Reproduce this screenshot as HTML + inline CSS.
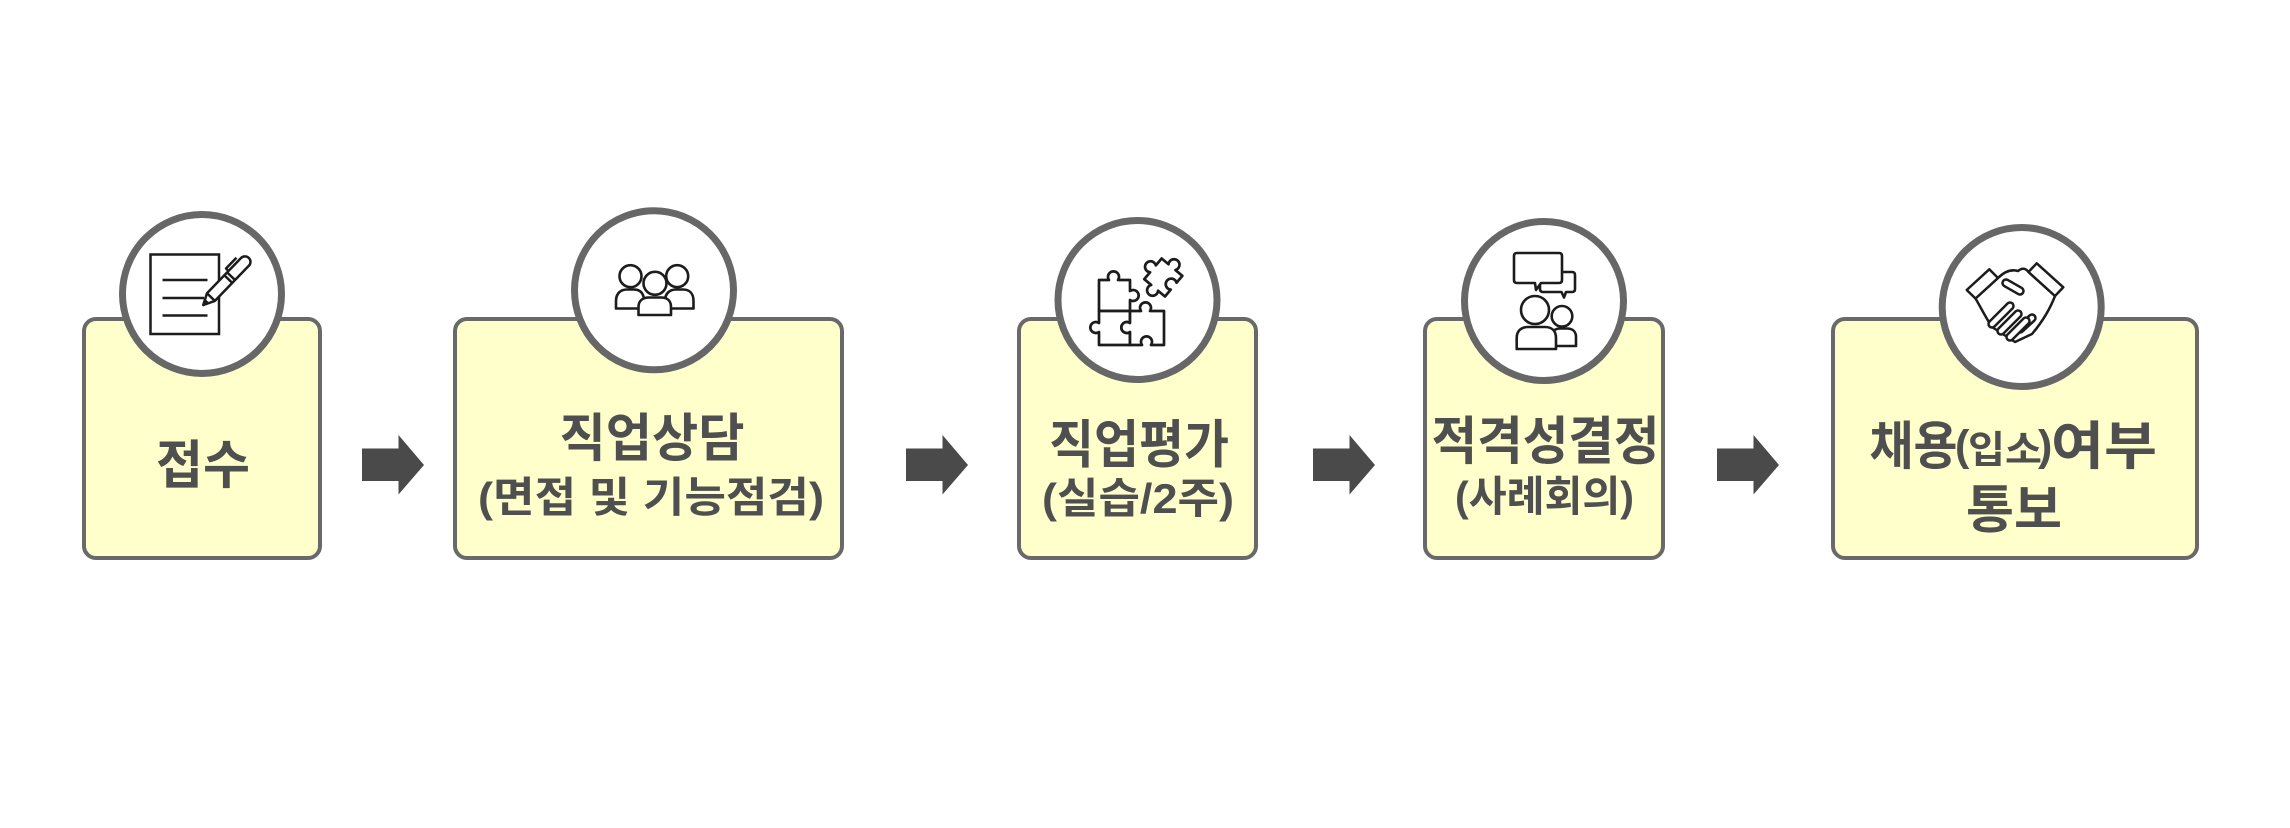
<!DOCTYPE html>
<html>
<head>
<meta charset="utf-8">
<style>
html,body{margin:0;padding:0;background:#fff;}
svg{display:block;}
.t{font-family:"Liberation Sans","Noto Sans CJK KR",sans-serif;font-weight:700;fill:#4f4f4f;}
</style>
</head>
<body>
<svg width="2290" height="828" viewBox="0 0 2290 828" xmlns="http://www.w3.org/2000/svg">
<rect x="0" y="0" width="2290" height="828" fill="#fff"/>

<!-- boxes -->
<g fill="#FFFFCC" stroke="#696969" stroke-width="4">
  <rect x="84" y="319" width="236" height="239" rx="12"/>
  <rect x="455" y="319" width="387" height="239" rx="12"/>
  <rect x="1019" y="319" width="237" height="239" rx="12"/>
  <rect x="1425" y="319" width="238" height="239" rx="12"/>
  <rect x="1833" y="319" width="364" height="239" rx="12"/>
</g>

<!-- circles -->
<g fill="#fff" stroke="#676767" stroke-width="7">
  <circle cx="202" cy="294" r="79.5"/>
  <circle cx="654" cy="290.3" r="79.5"/>
  <circle cx="1137.5" cy="300" r="79.5"/>
  <circle cx="1544" cy="301" r="79.5"/>
  <circle cx="2021.7" cy="307" r="79.5"/>
</g>

<!-- arrows -->
<g fill="#4a4a4a">
  <polygon points="362,448.5 398.5,448.5 398.5,435 424,465 398.5,494.5 398.5,481 362,481"/>
  <polygon points="906,448.5 942.5,448.5 942.5,435 968,465 942.5,494.5 942.5,481 906,481"/>
  <polygon points="1313,448.5 1349.5,448.5 1349.5,435 1375,465 1349.5,494.5 1349.5,481 1313,481"/>
  <polygon points="1717,448.5 1753.5,448.5 1753.5,435 1779,465 1753.5,494.5 1753.5,481 1717,481"/>
</g>

<!-- icon 1: document + pen -->
<g stroke="#1c1c1c" stroke-width="2.5" fill="none">
  <rect x="150.5" y="254.5" width="68.5" height="79.5" fill="#fff"/>
  <line x1="162.5" y1="280" x2="207.5" y2="280"/>
  <line x1="162.5" y1="298" x2="204" y2="298"/>
  <line x1="162.5" y1="315.5" x2="207.5" y2="315.5"/>
</g>
<g transform="translate(203.3,305) rotate(-46)" stroke="#1c1c1c" stroke-width="2.5" stroke-linejoin="round">
  <path d="M0,0 L11,-5.5 L60,-5.5 A5.5,5.5 0 0 1 60,5.5 L11,5.5 Z" fill="#fff"/>
  <path d="M0,0 L4.5,-2 L4.5,2 Z" fill="#1c1c1c"/>
  <line x1="11" y1="-5.5" x2="11" y2="5.5"/>
  <line x1="36" y1="-5.5" x2="36" y2="5.5"/>
  <line x1="40" y1="-5.5" x2="40" y2="5.5"/>
  <path d="M42,-5.5 L42,-9 L57,-9" fill="none"/>
</g>

<!-- icon 2: group -->
<g stroke="#1c1c1c" stroke-width="2.6" fill="#fff" stroke-linejoin="round">
  <path d="M616,308.5 L616,301 C616,293 621,289.5 627,289.5 L634,289.5 C640,289.5 644,293 644,301 L644,308.5 Z"/>
  <path d="M665,308.5 L665,301 C665,293 670,289.5 676,289.5 L683,289.5 C689,289.5 693.5,293 693.5,301 L693.5,308.5 Z"/>
  <circle cx="630.5" cy="276.2" r="11"/>
  <circle cx="677.2" cy="276.2" r="11"/>
  <path d="M638.5,315 L638.5,307 C638.5,300.5 643,297.5 649,297.5 L661,297.5 C667,297.5 671,300.5 671,307 L671,315 Z"/>
  <circle cx="655" cy="283.3" r="11.5"/>
</g>

<!-- icon 3: puzzle -->
<g stroke="#1c1c1c" stroke-width="2.7" fill="#fff" stroke-linejoin="round">
  <path d="M1099,280 L1109,280 A5.5,5.5 0 1 1 1118,280 L1130,280 L1130,291 A5.5,5.5 0 1 1 1130,300 L1130,311 L1099,311 Z"/>
  <path d="M1099,311 L1130,311 L1130,323 A5.5,5.5 0 1 0 1130,332 L1130,345 L1099,345 L1099,332 A5.5,5.5 0 1 1 1099,323 Z"/>
  <path d="M1130,311 L1141,311 A5.5,5.5 0 1 1 1150,311 L1164,311 L1164,345 L1151,345 A5.5,5.5 0 1 0 1142,345 L1130,345 L1130,332 A5.5,5.5 0 1 1 1130,323 Z"/>
  <g transform="translate(1163.3,277.5) rotate(40)">
    <path d="M-13.5,-13.5 L-4.5,-13.5 A5.5,5.5 0 1 1 4.5,-13.5 L13.5,-13.5 L13.5,-4.5 A5.5,5.5 0 1 0 13.5,4.5 L13.5,13.5 L4.5,13.5 A5.5,5.5 0 1 1 -4.5,13.5 L-13.5,13.5 L-13.5,4.5 A5.5,5.5 0 1 1 -13.5,-4.5 Z"/>
  </g>
</g>

<!-- icon 4: discussion -->
<g stroke="#1c1c1c" stroke-width="2.6" fill="#fff" stroke-linejoin="round">
  <path d="M1543,272 L1572,272 Q1575,272 1575,275 L1575,289 Q1575,292 1572,292 L1566,292 L1564,297.5 L1561.5,292 L1543,292 Q1540,292 1540,289 L1540,275 Q1540,272 1543,272 Z"/>
  <path d="M1517,253 L1559,253 Q1562,253 1562,256 L1562,280 Q1562,283 1559,283 L1541,283 L1536,290 L1535,283 L1517,283 Q1514,283 1514,280 L1514,256 Q1514,253 1517,253 Z"/>
  <path d="M1551.5,346 L1551.5,337 C1551.5,331.5 1555,328.5 1560,328.5 L1567,328.5 C1572.5,328.5 1576,331.5 1576,337 L1576,346 Z"/>
  <circle cx="1562" cy="316.3" r="10.3"/>
  <path d="M1516.7,349 L1516.7,338 C1516.7,331 1521,327 1528,327 L1545,327 C1552,327 1556,331 1556,338 L1556,349 Z"/>
  <circle cx="1535" cy="310" r="14"/>
</g>

<!-- icon 5: handshake -->
<g stroke="#1c1c1c" stroke-width="2.5" fill="#fff" stroke-linejoin="round" stroke-linecap="round">
  <path d="M2028.5,272 L2055,296 C2050,309 2043,321 2032,334 L2015,342 L1992,327 C1986,318 1980,306 1975.5,298.5 L1998,278 Q2008,268 2018,271 Q2024,266 2028.5,272 Z"/>
  <polygon points="1966.7,290 1989.3,269.3 1998,278 1975.5,298.5"/>
  <polygon points="2036.7,263.3 2063.3,287.3 2055,296 2028.5,272"/>
</g>
<g stroke-linecap="round">
  <line x1="2020" y1="329" x2="2032" y2="318" stroke="#1c1c1c" stroke-width="9.5"/>
  <line x1="2020" y1="329" x2="2032" y2="318" stroke="#fff" stroke-width="4.5"/>
  <line x1="2010" y1="337" x2="2026" y2="321" stroke="#1c1c1c" stroke-width="9.5"/>
  <line x1="2010" y1="337" x2="2026" y2="321" stroke="#fff" stroke-width="4.5"/>
  <line x1="2001" y1="331" x2="2018" y2="314" stroke="#1c1c1c" stroke-width="9.5"/>
  <line x1="2001" y1="331" x2="2018" y2="314" stroke="#fff" stroke-width="4.5"/>
  <line x1="1992" y1="324" x2="2010" y2="306" stroke="#1c1c1c" stroke-width="9.5"/>
  <line x1="1992" y1="324" x2="2010" y2="306" stroke="#fff" stroke-width="4.5"/>
  <line x1="2006" y1="283" x2="2020" y2="291" stroke="#1c1c1c" stroke-width="9.5"/>
  <line x1="2006" y1="283" x2="2020" y2="291" stroke="#fff" stroke-width="4.5"/>
</g>

<!-- text -->
<text class="t" x="156" y="483.5" font-size="52" textLength="94" lengthAdjust="spacingAndGlyphs">접수</text>

<text class="t" x="559.5" y="456.5" font-size="52" textLength="185" lengthAdjust="spacingAndGlyphs">직업상담</text>
<text class="t" x="478" y="512" font-size="42" textLength="346" lengthAdjust="spacingAndGlyphs">(면접 및 기능점검)</text>

<text class="t" x="1049" y="463" font-size="52" textLength="180" lengthAdjust="spacingAndGlyphs">직업평가</text>
<text class="t" x="1042" y="513" font-size="42" textLength="192" lengthAdjust="spacingAndGlyphs">(실습/2주)</text>

<text class="t" x="1431.5" y="459.5" font-size="52" textLength="228" lengthAdjust="spacingAndGlyphs">적격성결정</text>
<text class="t" x="1455" y="511" font-size="42" textLength="179" lengthAdjust="spacingAndGlyphs">(사례회의)</text>

<text class="t" x="1869.5" y="464.5" font-size="52" textLength="88" lengthAdjust="spacingAndGlyphs">채용</text>
<text class="t" x="1955" y="460" font-size="43">(</text>
<text class="t" x="1968" y="463" font-size="38" textLength="74" lengthAdjust="spacingAndGlyphs">입소</text>
<text class="t" x="2038" y="460" font-size="43">)</text>
<text class="t" x="2051" y="464.5" font-size="52" textLength="106" lengthAdjust="spacingAndGlyphs">여부</text>
<text class="t" x="1966" y="528" font-size="52" textLength="96" lengthAdjust="spacingAndGlyphs">통보</text>
</svg>
</body>
</html>
